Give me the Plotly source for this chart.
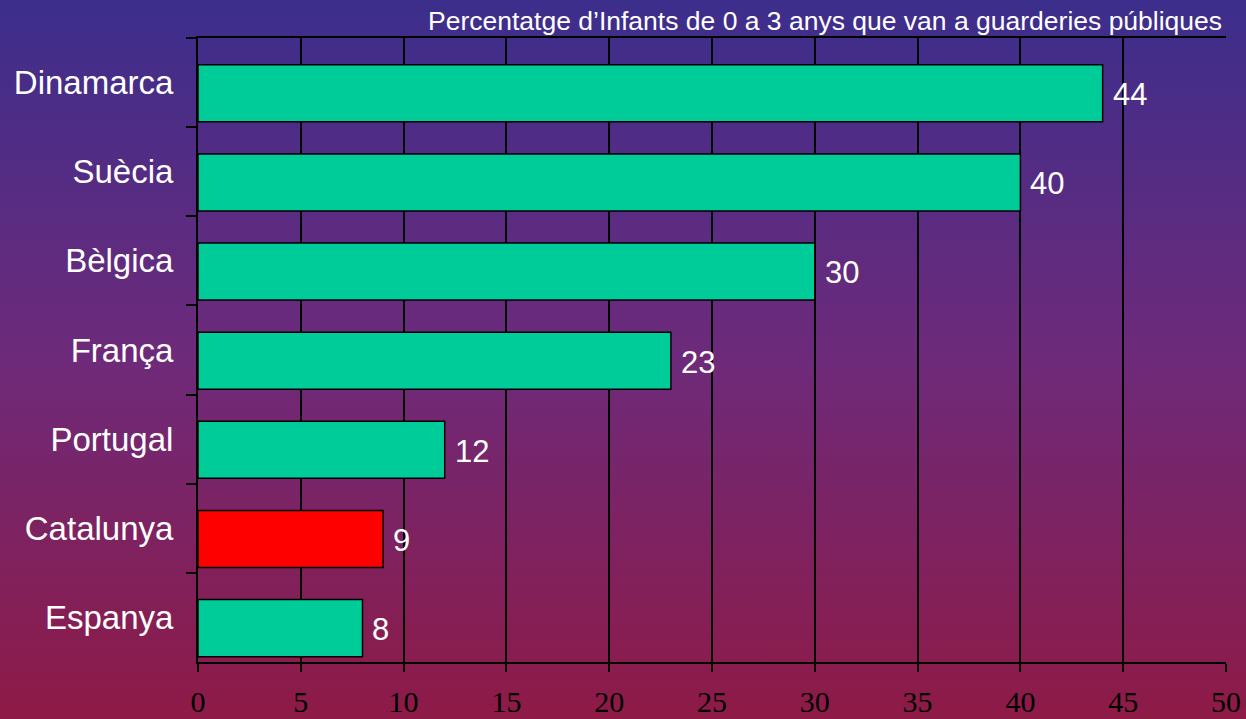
import base64
import plotly.graph_objects as go

countries = ["Dinamarca", "Suècia", "Bèlgica", "França", "Portugal", "Catalunya", "Espanya"]
values = [44, 40, 30, 23, 12, 9, 8]
bar_colors = ["#00CC99", "#00CC99", "#00CC99", "#00CC99", "#00CC99", "#FF0000", "#00CC99"]
x_ticks = [0, 5, 10, 15, 20, 25, 30, 35, 40, 45, 50]
title_text = "Percentatge d\u2019Infants de 0 a 3 anys que van a guarderies públiques"

svg = (
    '<svg xmlns="http://www.w3.org/2000/svg" width="100" height="100" preserveAspectRatio="none">'
    '<defs><linearGradient id="g" x1="0" y1="0" x2="0" y2="1">'
    '<stop offset="0" stop-color="#3C2E8C"/>'
    '<stop offset="0.5" stop-color="#6E2A7A"/>'
    '<stop offset="1" stop-color="#8E1A46"/>'
    '</linearGradient></defs>'
    '<rect width="100" height="100" fill="url(#g)"/></svg>'
)
bg_uri = "data:image/svg+xml;base64," + base64.b64encode(svg.encode()).decode()

fig = go.Figure()
fig.add_trace(go.Bar(
    x=values, y=countries, orientation="h",
    marker=dict(color=bar_colors, line=dict(color="black", width=1.5)),
    width=0.64, offset=-0.2, showlegend=False, hoverinfo="skip",
))

for c, v in zip(countries, values):
    fig.add_annotation(x=v, y=c, xref="x", yref="y", text=str(v), showarrow=False,
                       xanchor="left", xshift=8, yshift=-12,
                       font=dict(family="Liberation Sans", size=31, color="white"))

fig.add_annotation(x=1, y=1, xref="paper", yref="paper", text=title_text, showarrow=False,
                   xanchor="right", yanchor="bottom", xshift=-2, yshift=0,
                   font=dict(family="Liberation Sans", size=26.5, color="white"))

fig.update_layout(
    width=1246, height=719,
    margin=dict(l=198, r=20, t=38, b=57),
    paper_bgcolor="rgba(0,0,0,0)", plot_bgcolor="rgba(0,0,0,0)",
    images=[dict(source=bg_uri, xref="paper", yref="paper", x=-198/1028, y=1+38/624,
                 sizex=1246/1028, sizey=719/624, xanchor="left", yanchor="top",
                 sizing="stretch", layer="below")],
    xaxis=dict(range=[0, 50], tickvals=x_ticks, ticktext=[str(t) for t in x_ticks],
               showgrid=True, gridcolor="black", gridwidth=1.5,
               showline=True, linecolor="black", linewidth=2, mirror=True,
               ticks="outside", ticklen=8, tickwidth=2, tickcolor="black",
               tickfont=dict(family="Liberation Serif", size=30, color="black"),
               ticklabelstandoff=4, zeroline=False, fixedrange=True, automargin=False),
    yaxis=dict(categoryorder="array", categoryarray=countries, autorange="reversed",
               showline=True, linecolor="black", linewidth=2, mirror=False,
               ticks="outside", ticklen=10, tickwidth=2, tickcolor="black",
               tickson="boundaries", showgrid=False,
               tickfont=dict(family="Liberation Sans", size=33, color="white"),
               ticklabelstandoff=16, fixedrange=True, automargin=False),
)

fig.write_html("out.html", config={"displayModeBar": False},
               post_script="document.body.style.margin='0';document.body.style.overflow='hidden';")
